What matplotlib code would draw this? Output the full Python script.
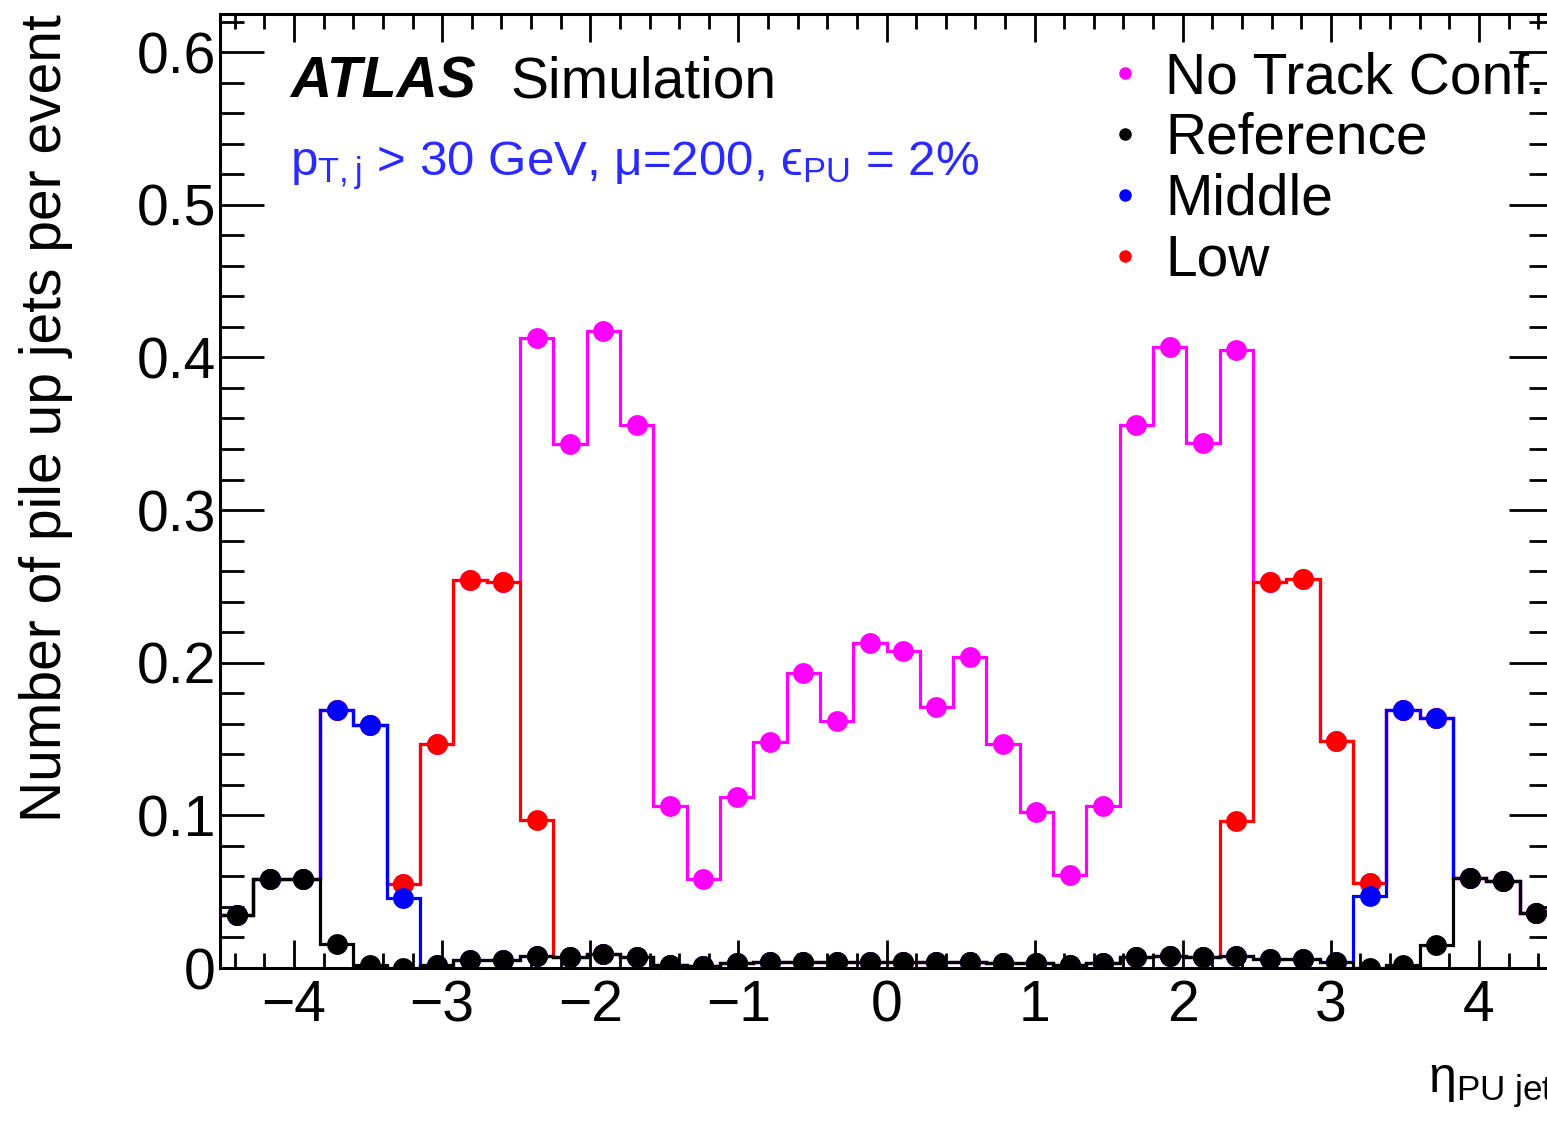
import numpy as np
import matplotlib
matplotlib.use("Agg")
import matplotlib.pyplot as plt
from matplotlib.lines import Line2D
from matplotlib.ticker import MultipleLocator, FuncFormatter

plt.rcParams['font.family'] = ['Liberation Sans', 'DejaVu Sans']
plt.rcParams['mathtext.fontset'] = 'custom'
plt.rcParams['mathtext.rm'] = 'Liberation Sans'
plt.rcParams['mathtext.it'] = 'Liberation Sans:italic'
plt.rcParams['mathtext.bf'] = 'Liberation Sans:bold'

# 40 eta bins between -4.5 and 4.5
eta_edges = np.linspace(-4.5, 4.5, 41)

# pile-up jets per event, one value per eta bin
reference = [0.035, 0.058, 0.058, 0.016, 0.002, 0.000, 0.002, 0.005, 0.005, 0.008,
             0.007, 0.009, 0.007, 0.002, 0.001, 0.003, 0.004, 0.004, 0.004, 0.004,
             0.004, 0.004, 0.004, 0.003, 0.003, 0.002, 0.003, 0.007, 0.008, 0.007,
             0.008, 0.006, 0.006, 0.004, 0.000, 0.002, 0.015, 0.059, 0.057, 0.036]
middle = [0.035, 0.058, 0.058, 0.169, 0.159, 0.046, 0.002, 0.005, 0.005, 0.008,
          0.007, 0.009, 0.007, 0.002, 0.001, 0.003, 0.004, 0.004, 0.004, 0.004,
          0.004, 0.004, 0.004, 0.003, 0.003, 0.002, 0.003, 0.007, 0.008, 0.007,
          0.008, 0.006, 0.006, 0.004, 0.047, 0.169, 0.164, 0.059, 0.057, 0.036]
low = [0.035, 0.058, 0.058, 0.169, 0.159, 0.055, 0.147, 0.254, 0.253, 0.097,
       0.007, 0.009, 0.007, 0.002, 0.001, 0.003, 0.004, 0.004, 0.004, 0.004,
       0.004, 0.004, 0.004, 0.003, 0.003, 0.002, 0.003, 0.007, 0.008, 0.007,
       0.096, 0.253, 0.255, 0.149, 0.056, 0.169, 0.164, 0.059, 0.057, 0.036]
no_track = [0.035, 0.058, 0.058, 0.169, 0.159, 0.055, 0.147, 0.254, 0.253, 0.413,
            0.343, 0.417, 0.356, 0.106, 0.058, 0.112, 0.148, 0.193, 0.162, 0.213,
            0.208, 0.171, 0.204, 0.147, 0.102, 0.061, 0.106, 0.356, 0.407, 0.344,
            0.405, 0.253, 0.255, 0.149, 0.056, 0.169, 0.164, 0.059, 0.057, 0.036]

labels = ["No Track Conf.", "Reference", "Middle", "Low"]
colors = {"No Track Conf.": "#ff00ff", "Reference": "black",
          "Middle": "#0000ff", "Low": "#ff0000"}

fig = plt.figure(figsize=(15.47, 11.33), dpi=100)
W, H = 1547, 1133
ax = fig.add_axes([220 / W, (H - 968) / H, (1553 - 220) / W, (968 - 14) / H])

centers = 0.5 * (eta_edges[:-1] + eta_edges[1:])
series = [("No Track Conf.", no_track), ("Low", low),
          ("Middle", middle), ("Reference", reference)]
for k, (name, vals) in enumerate(series):
    c = colors[name]
    ax.stairs(vals, eta_edges, color=c, lw=2.3, baseline=None, zorder=3 + 2 * k)
    ax.plot(centers, vals, 'o', color=c, ms=15, mew=0, zorder=4 + 2 * k)

ax.set_xlim(-4.5, 4.5)
ax.set_ylim(0, 0.625)

ax.xaxis.set_major_locator(MultipleLocator(1))
ax.xaxis.set_minor_locator(MultipleLocator(0.2))
ax.yaxis.set_major_locator(MultipleLocator(0.1))
ax.yaxis.set_minor_locator(MultipleLocator(0.02))
ax.yaxis.set_major_formatter(FuncFormatter(lambda v, p: "0" if abs(v) < 1e-9 else f"{v:.1f}"))

ax.tick_params(axis='both', which='both', direction='in', top=True, right=True, width=2)
ax.tick_params(axis='x', which='major', length=20, labelsize=41, pad=8)
ax.tick_params(axis='x', which='minor', length=11)
ax.tick_params(axis='y', which='major', length=32, labelsize=41, pad=3)
ax.tick_params(axis='y', which='minor', length=17)
for s in ax.spines.values():
    s.set_linewidth(2.2)

ax.set_ylabel("Number of pile up jets per event", fontsize=41, loc='top', labelpad=46)
ax.set_xlabel(r"η$_{\mathrm{PU\ jet}}$", fontsize=36, loc='right', labelpad=22)

fig.text(290 / W, (H - 98) / H, "ATLAS", fontsize=41, fontweight='bold',
         fontstyle='italic', va='baseline')
fig.text(510 / W, (H - 98) / H, "Simulation", fontsize=41, va='baseline')
fig.text(290 / W, (H - 175) / H,
         r"p$_{\mathrm{T,j}}$ > 30 GeV, μ=200, ϵ$_{\mathrm{PU}}$ = 2%",
         fontsize=35.5, color='#2a2aff', va='baseline')

handles = [Line2D([], [], marker='o', ls='none', color=colors[n], ms=8) for n in labels]
ax.legend(handles, labels, loc='upper left', bbox_to_anchor=(1108 / W, (H - 51) / H),
          bbox_transform=fig.transFigure, frameon=False, fontsize=41,
          handlelength=0.6, handletextpad=0.4, labelspacing=0.12, borderpad=0,
          borderaxespad=0)

fig.savefig("out.png", dpi=100)
